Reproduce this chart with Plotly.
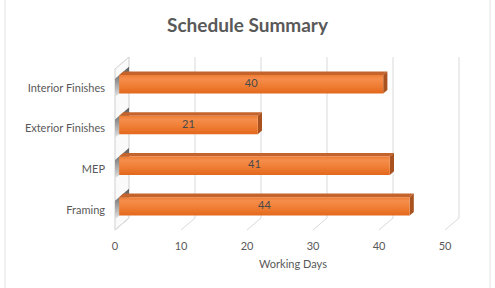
import plotly.graph_objects as go

# ---- data ----
categories = ["Framing", "MEP", "Exterior Finishes", "Interior Finishes"]
working_days = [44, 41, 21, 40]
x_ticks = [0, 10, 20, 30, 40, 50]
title_text = "Schedule Summary"
x_title = "Working Days"

# ---- layout geometry (pixels) ----
W, H = 495, 288
ML, MR, MT, MB = 106, 15, 50, 53
PX0 = 115.0      # pixel of value 0 on front plane
PX_PER = 6.6     # pixels per unit
PY0 = 210.0      # pixel of first category center
PY_PER = 40.7    # pixels per category

def ux(p):
    return (p - PX0) / PX_PER

def uy(p):
    return (PY0 - p) / PY_PER

xr = [ux(ML), ux(W - MR)]
yr = [uy(H - MB), uy(MT)]

DX = 14 / PX_PER      # wall depth in x units
DY = 12 / PY_PER      # wall depth in y units
FLOOR = uy(230)
TOP = uy(57)
F0, F1 = 0.3, 0.6     # bar depth fractions
HH = 9.2 / PY_PER     # half height of bar face

grid_col = "#d9d9d9"
txt_col = "#595959"
FONT = "Lato"

fig = go.Figure()

# left wall
fig.add_trace(go.Scatter(
    x=[0, 0, DX, DX, 0], y=[FLOOR, TOP - DY, TOP, FLOOR + DY, FLOOR],
    mode="lines", fill="toself", fillcolor="#fafafa",
    line=dict(color="#cfcfcf", width=1), hoverinfo="skip", showlegend=False))

# back gridlines + floor diagonals
for v in x_ticks:
    if v > 0:
        fig.add_trace(go.Scatter(
            x=[v + DX, v + DX], y=[FLOOR + DY, TOP], mode="lines",
            line=dict(color=grid_col, width=1), hoverinfo="skip", showlegend=False))
    fig.add_trace(go.Scatter(
        x=[v, v + DX], y=[FLOOR, FLOOR + DY], mode="lines",
        line=dict(color=grid_col, width=1), hoverinfo="skip", showlegend=False))

# bars
for i, (cat, v) in enumerate(zip(categories, working_days)):
    c = i
    dxf, dyf = F0 * DX, F0 * DY
    dxb, dyb = F1 * DX, F1 * DY
    # shadow on left wall
    fig.add_trace(go.Scatter(
        x=[0, 0, DX, DX, 0],
        y=[c - HH, c + HH, c + HH + DY, c - HH + DY, c - HH],
        mode="lines", fill="toself", line=dict(width=0),
        fillgradient=dict(type="vertical",
                          colorscale=[[0, "#e4e4e4"], [0.6, "#8a8a8a"], [1, "#5a5a5a"]]),
        hoverinfo="skip", showlegend=False))
    # top face
    fig.add_trace(go.Scatter(
        x=[dxf, v + dxf, v + dxb, dxb, dxf],
        y=[c + dyf + HH, c + dyf + HH, c + dyb + HH, c + dyb + HH, c + dyf + HH],
        mode="lines", fill="toself", fillcolor="#c4642c", line=dict(width=0),
        hoverinfo="skip", showlegend=False))
    # side face
    fig.add_trace(go.Scatter(
        x=[v + dxf, v + dxb, v + dxb, v + dxf, v + dxf],
        y=[c + dyf - HH, c + dyb - HH, c + dyb + HH, c + dyf + HH, c + dyf - HH],
        mode="lines", fill="toself", fillcolor="#a9521f", line=dict(width=0),
        hoverinfo="skip", showlegend=False))
    # front face
    fig.add_trace(go.Scatter(
        x=[dxf, v + dxf, v + dxf, dxf, dxf],
        y=[c + dyf - HH, c + dyf - HH, c + dyf + HH, c + dyf + HH, c + dyf - HH],
        mode="lines", fill="toself", line=dict(width=0),
        fillgradient=dict(type="vertical",
                          colorscale=[[0, "#e2681c"], [0.45, "#f07f36"],
                                      [0.8, "#f58d4c"], [1, "#ee7c33"]]),
        hoverinfo="skip", showlegend=False))
    # value label
    fig.add_trace(go.Scatter(
        x=[v / 2 + dxf], y=[c + dyf], mode="text", text=[str(v)],
        textfont=dict(family=FONT, size=11, color="#4a4a4a"),
        hoverinfo="skip", showlegend=False))

# frame lines (chart border)
plot_w = W - ML - MR
plot_h = H - MT - MB
for p in (5, 490):
    xp = (p - ML) / plot_w
    fig.add_shape(type="line", xref="paper", yref="paper",
                  x0=xp, x1=xp, y0=-(MB + 5) / plot_h, y1=(plot_h + MT + 5) / plot_h,
                  line=dict(color="#e3e3e3", width=1))

fig.update_layout(
    width=W, height=H,
    margin=dict(l=ML, r=MR, t=MT, b=MB),
    paper_bgcolor="white", plot_bgcolor="white",
    title=dict(text=f"<b>{title_text}</b>", x=0.5, xanchor="center",
               y=1 - 25 / H, yanchor="middle",
               font=dict(family=FONT, size=19, color=txt_col)),
    xaxis=dict(range=xr, tickvals=x_ticks, ticktext=[str(t) for t in x_ticks],
               showgrid=False, zeroline=False, showline=False, ticks="",
               ticklabelstandoff=3,
               tickfont=dict(family=FONT, size=11, color=txt_col),
               title=dict(text=x_title, standoff=9,
                          font=dict(family=FONT, size=11, color=txt_col)),
               fixedrange=True),
    yaxis=dict(range=yr, tickvals=list(range(len(categories))), ticktext=categories,
               showgrid=False, zeroline=False, showline=False, ticks="",
               tickfont=dict(family=FONT, size=11, color=txt_col),
               fixedrange=True),
    showlegend=False,
)

fig.write_html("out.html")
